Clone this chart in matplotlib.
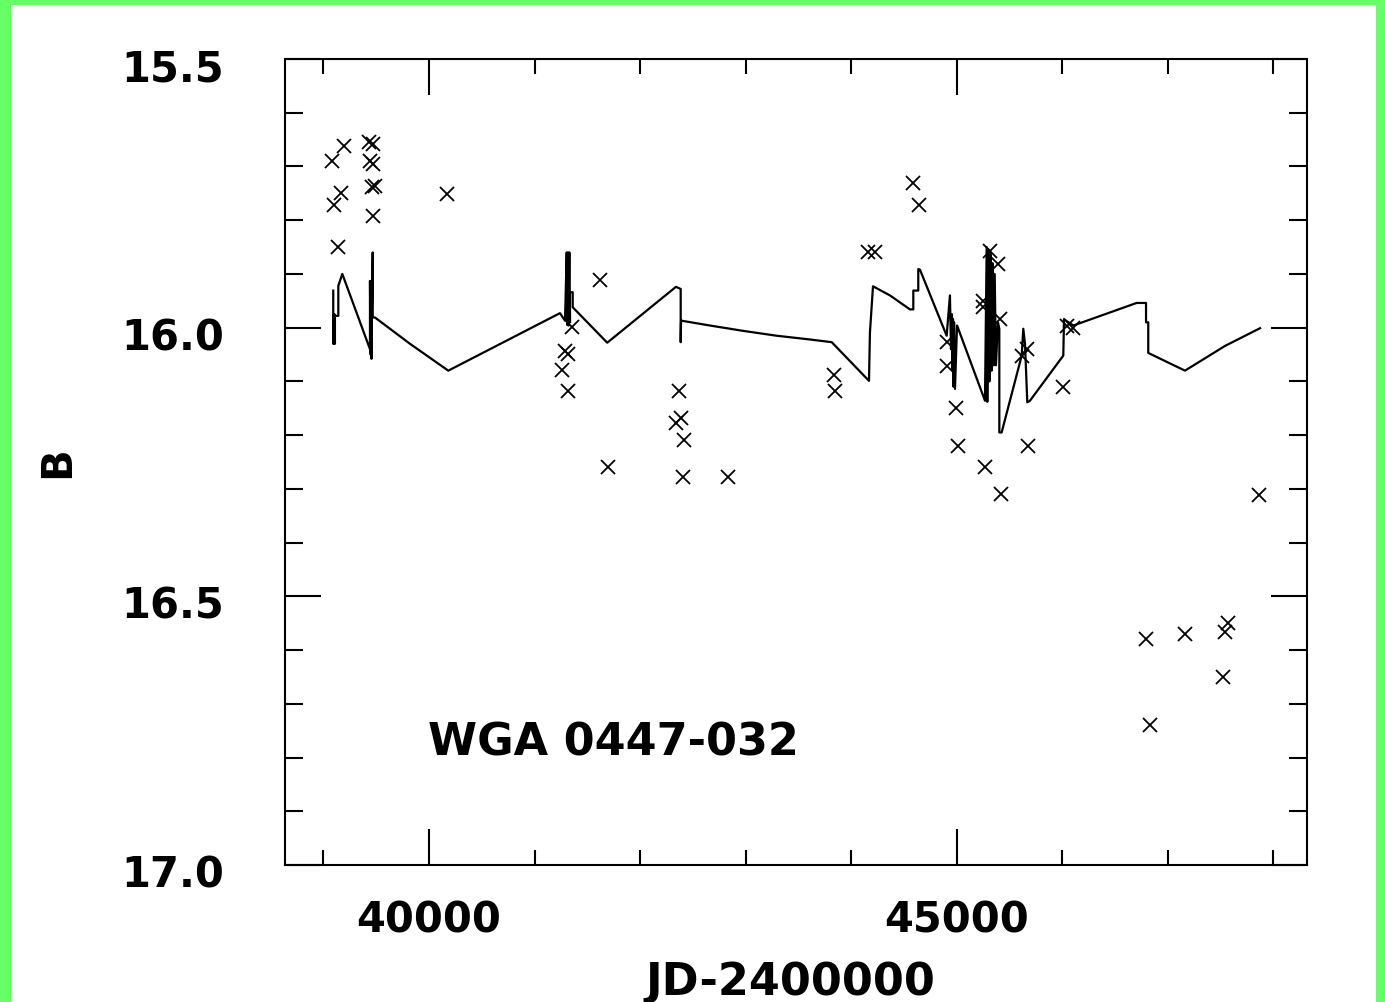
import matplotlib
matplotlib.use("Agg")
import matplotlib.pyplot as plt
from matplotlib.patches import Rectangle
from matplotlib.ticker import MultipleLocator, FixedLocator, FixedFormatter
import matplotlib.transforms as mtransforms

# ---- data ----
obs_jd = [39197, 39078, 39163, 39103, 39141, 39434, 39467, 39441, 39472, 39488,
          39460, 39467, 40168, 41620, 41352, 41289, 41320, 41263, 41320, 41693,
          42372, 42388, 42341, 42419, 42410, 42836, 43837, 43847, 44160, 44226,
          44589, 44643, 44990, 45015, 45268, 45420, 45678, 46010, 46042, 46105,
          45315, 45394, 45246, 45252, 44905, 44905, 45410, 45663, 45616, 47864,
          46791, 47163, 47568, 47542, 47526, 46831]
obs_b = [15.661, 15.690, 15.749, 15.771, 15.849, 15.654, 15.658, 15.689, 15.695, 15.736,
         15.738, 15.792, 15.751, 15.911, 15.999, 16.044, 16.049, 16.079, 16.118, 16.260,
         16.118, 16.168, 16.178, 16.209, 16.278, 16.278, 16.089, 16.118, 15.860, 15.860,
         15.731, 15.771, 16.149, 16.220, 16.259, 16.310, 16.220, 16.111, 15.996, 16.001,
         15.857, 15.881, 15.950, 15.962, 16.027, 16.071, 15.984, 16.040, 16.052, 16.311,
         16.579, 16.570, 16.550, 16.567, 16.650, 16.739]

model_jd = [39093, 39093, 39099, 39099, 39104, 39109, 39109, 39141, 39141, 39179,
            39441, 39441, 39447, 39452, 39455, 39460, 39467, 39467, 39488, 39820,
            40183, 41241, 41289, 41305, 41310, 41317, 41322, 41330, 41336, 41336,
            41362, 41362, 41689, 42340, 42385, 42385, 42388, 42392, 42662, 42978,
            43294, 43610, 43816, 44169, 44178, 44207, 44368, 44557, 44589, 44589,
            44636, 44636, 44652, 44905, 44936, 44946, 44955, 44960, 44965, 44970,
            44975, 44984, 45003, 45015, 45268, 45284, 45290, 45300, 45310, 45320,
            45330, 45340, 45350, 45360, 45372, 45391, 45404, 45404, 45426, 45616,
            45631, 45647, 45669, 45694, 46010, 46017, 46036, 46105, 46705, 46794,
            46794, 46815, 46815, 47163, 47542, 47874]
model_b = [15.931, 16.030, 15.975, 16.030, 15.975, 16.030, 15.978, 15.978, 15.922, 15.900,
           16.040, 15.913, 16.050, 15.915, 16.058, 15.950, 15.860, 15.981, 15.981, 16.030,
           16.080, 15.973, 15.987, 15.860, 15.995, 15.860, 15.996, 15.860, 15.990, 15.934,
           15.934, 15.962, 16.028, 15.924, 15.928, 16.027, 15.990, 15.987, 15.996, 16.006,
           16.015, 16.022, 16.027, 16.099, 16.009, 15.923, 15.940, 15.966, 15.966, 15.931,
           15.931, 15.891, 15.892, 16.015, 15.940, 16.040, 15.975, 16.080, 15.984, 16.110,
           15.990, 16.114, 15.996, 16.002, 16.136, 15.850, 16.138, 15.854, 16.100, 15.860,
           16.080, 15.880, 16.070, 15.900, 16.070, 15.990, 16.002, 16.195, 16.195, 16.052,
           16.002, 16.030, 16.139, 16.136, 16.052, 15.984, 15.987, 15.996, 15.954, 15.954,
           15.990, 15.990, 16.047, 16.080, 16.034, 16.001]

x_major = [40000, 45000]
x_major_labels = ["40000", "45000"]
y_major = [15.5, 16.0, 16.5, 17.0]
y_major_labels = ["15.5", "16.0", "16.5", "17.0"]
object_name = "WGA 0447-032"

# ---- figure ----
W, H = 1385, 1003
fig = plt.figure(figsize=(W / 100, H / 100), dpi=100)
fig.patch.set_facecolor("#66FF66")
fig.patches.append(Rectangle((11 / W, 0), (1376 - 11) / W, 1 - 6 / H,
                             transform=fig.transFigure, facecolor="white",
                             edgecolor="none", zorder=-10))

ax = fig.add_axes([284.8 / W, 1 - 866 / H, (1307.2 - 284.8) / W, (866 - 60) / H])
ax.set_zorder(5)
ax.set_facecolor("white")

ax.plot(model_jd, model_b, color="black", lw=1.6, zorder=2)
ax.plot(obs_jd, obs_b, linestyle="none", marker="x", color="black",
        markersize=10, markeredgewidth=1.3, zorder=3)

ax.set_xlim(38634, 48321)
ax.set_ylim(17.0, 15.5)

ax.xaxis.set_major_locator(FixedLocator(x_major))
ax.xaxis.set_major_formatter(FixedFormatter(x_major_labels))
ax.xaxis.set_minor_locator(MultipleLocator(1000))
ax.yaxis.set_major_locator(FixedLocator(y_major))
ax.yaxis.set_major_formatter(FixedFormatter(y_major_labels))
ax.yaxis.set_minor_locator(MultipleLocator(0.1))

for s in ax.spines.values():
    s.set_linewidth(1.5)

ax.tick_params(which="both", direction="in", top=True, right=True, width=1.5,
               colors="black")
ax.tick_params(axis="y", which="major", length=26, pad=44, labelsize=30)
ax.tick_params(axis="y", which="minor", length=13)
ax.tick_params(axis="x", which="major", length=26, pad=24, labelsize=30)
ax.tick_params(axis="x", which="minor", length=11)

for lab in ax.get_yticklabels():
    lab.set_fontfamily("DejaVu Sans")
    lab.set_fontweight("bold")
    lab.set_transform(lab.get_transform() +
                      mtransforms.ScaledTranslation(0, -5 / 100, fig.dpi_scale_trans))
for lab in ax.get_xticklabels():
    lab.set_fontfamily("DejaVu Sans")
    lab.set_fontweight("bold")

ax.set_xlabel("JD-2400000", fontsize=32, fontfamily="DejaVu Sans",
              fontweight="bold", va="top")
ax.xaxis.set_label_coords((790 - 284.8) / (1307.2 - 284.8), (866 - 961) / 806)
ax.set_ylabel("B", fontsize=30, fontfamily="DejaVu Sans", fontweight="bold",
              va="center")
ax.yaxis.set_label_coords((57 - 284.8) / (1307.2 - 284.8), (866 - 462) / 806)

ax.text(39990, 16.771, object_name, fontsize=32, fontfamily="DejaVu Sans",
        fontweight="bold", ha="left", va="center", color="black")

fig.savefig("out.png", dpi=100, facecolor=fig.get_facecolor())
